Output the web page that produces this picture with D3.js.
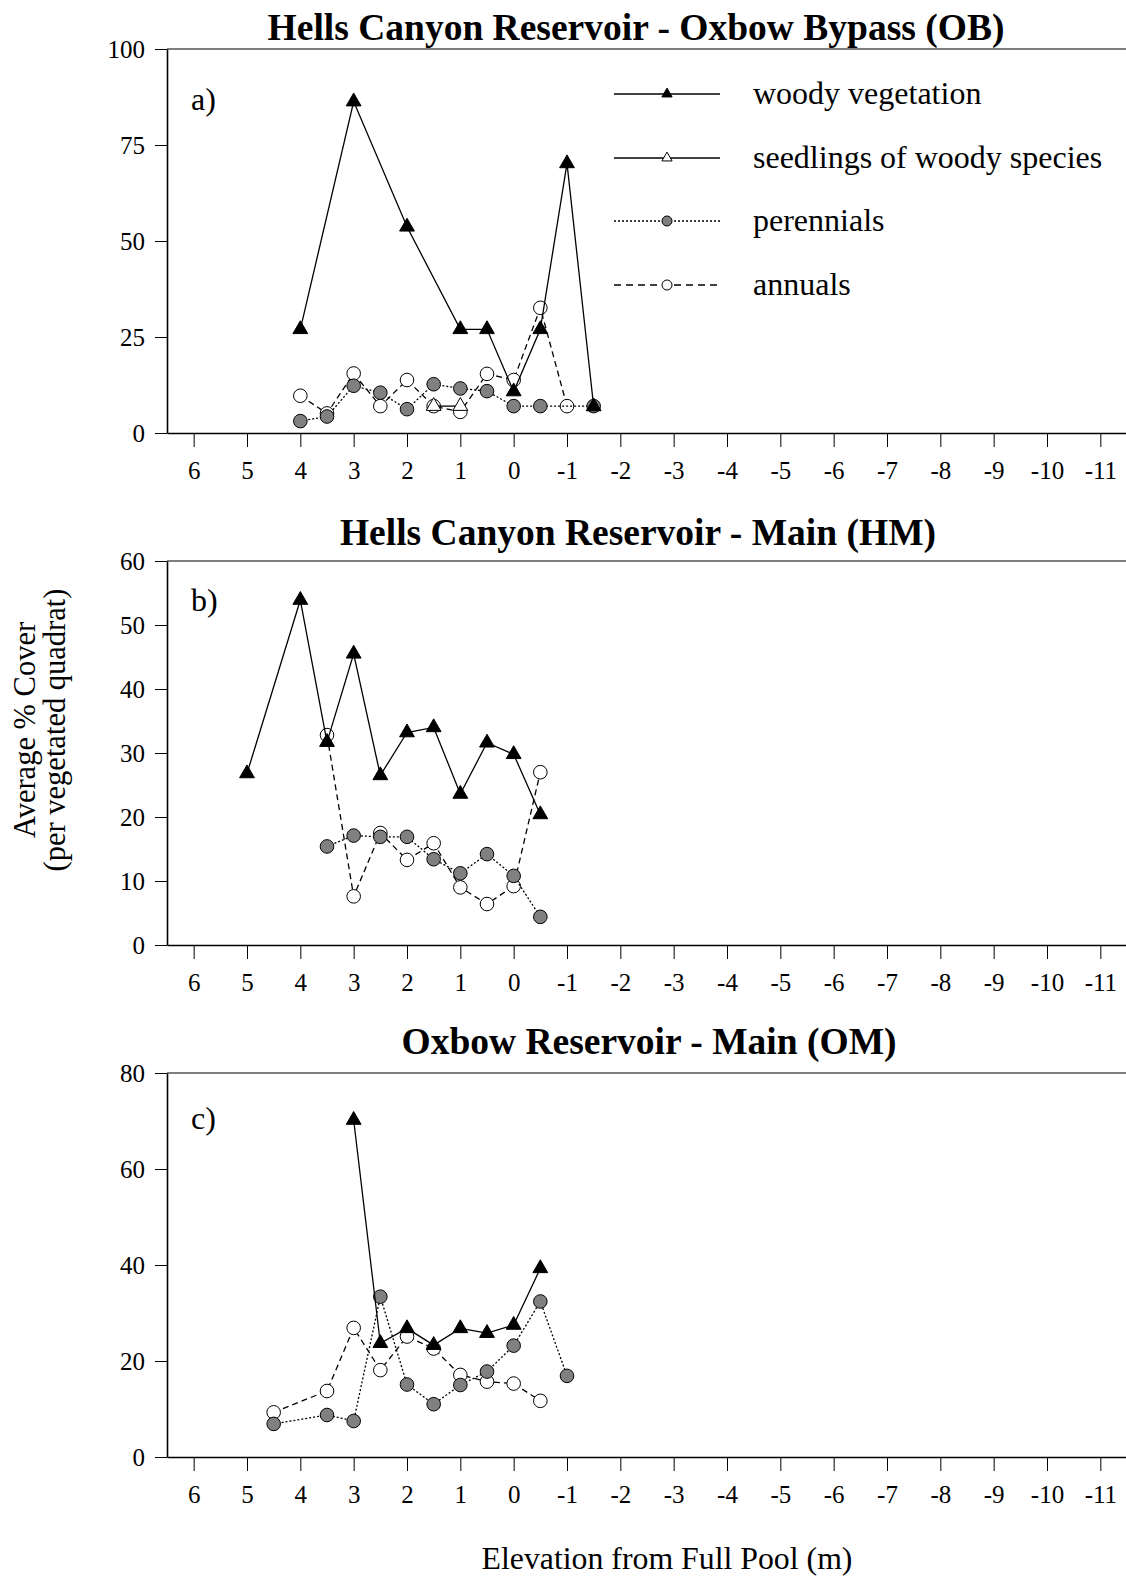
<!DOCTYPE html>
<html>
<head>
<meta charset="utf-8">
<script src="https://cdn.jsdelivr.net/npm/d3@7"></script>
<style>
  html, body { margin: 0; padding: 0; background: #fff; }
  text { font-family: "Liberation Serif", "Times New Roman", serif; fill: #000; }
</style>
</head>
<body>
<div id="chart"></div>
<script>
const X_TICKS = [6, 5, 4, 3, 2, 1, 0, -1, -2, -3, -4, -5, -6, -7, -8, -9, -10, -11];

// a) Hells Canyon Reservoir - Oxbow Bypass  [elevation, % cover]
const obWoody = [[4, 27], [3, 86.3], [2, 53.7], [1, 27], [0.5, 27], [0, 10.8], [-0.5, 27], [-1, 70.2], [-1.5, 6.9]];
const obSeedlings = [[1.5, 7], [1, 7]];
const obPerennials = [[4, 3.1], [3.5, 4.3], [3, 12.3], [2.5, 10.5], [2, 6.2], [1.5, 12.7], [1, 11.6], [0.5, 10.9], [0, 7], [-0.5, 7], [-1.5, 7]];
const obAnnuals = [[4, 9.7], [3.5, 5.1], [3, 15.5], [2.5, 7], [2, 13.8], [1.5, 7], [1, 5.5], [0.5, 15.4], [0, 13.8], [-0.5, 32.6], [-1, 7]];
const obYTicks = [0, 25, 50, 75, 100];

// b) Hells Canyon Reservoir - Main
const hmWoody = [[5, 26.8], [4, 53.9], [3.5, 31.7], [3, 45.5], [2.5, 26.5], [2, 33.2], [1.5, 34], [1, 23.6], [0.5, 31.6], [0, 29.8], [-0.5, 20.4]];
const hmPerennials = [[3.5, 15.4], [3, 17.1], [2.5, 16.9], [2, 16.9], [1.5, 13.4], [1, 11.2], [0.5, 14.2], [0, 10.8], [-0.5, 4.4]];
const hmAnnuals = [[3.5, 32.8], [3, 7.6], [2.5, 17.5], [2, 13.3], [1.5, 15.9], [1, 9], [0.5, 6.4], [0, 9.2], [-0.5, 27]];
const hmYTicks = [0, 10, 20, 30, 40, 50, 60];

// c) Oxbow Reservoir - Main
const omWoody = [[3, 70.2], [2.5, 23.7], [2, 26.8], [1.5, 23.3], [1, 26.8], [0.5, 25.8], [0, 27.5], [-0.5, 39.3]];
const omPerennials = [[4.5, 6.9], [3.5, 8.75], [3, 7.5], [2.5, 33.4], [2, 15.1], [1.5, 11], [1, 15], [0.5, 17.8], [0, 23.2], [-0.5, 32.4], [-1, 16.9]];
const omAnnuals = [[4.5, 9.3], [3.5, 13.75], [3, 26.9], [2.5, 18.1], [2, 25.1], [1.5, 22.6], [1, 17.1], [0.5, 15.7], [0, 15.3], [-0.5, 11.7]];
const omYTicks = [0, 20, 40, 60, 80];

const LEGEND = ['woody vegetation', 'seedlings of woody species', 'perennials', 'annuals'];

// line + marker styles per series kind
const STYLE = {
  woody:      { dash: null,  marker: 'tri',    fill: '#000' },
  seedlings:  { dash: null,  marker: 'tri',    fill: '#fff' },
  perennials: { dash: '2,2', marker: 'circle', fill: '#808080' },
  annuals:    { dash: '6,4', marker: 'circle', fill: '#fff' },
};

const width = 1126, height = 1577;
const left = 167, right = 1127;

const panels = [
  { title: 'Hells Canyon Reservoir - Oxbow Bypass (OB)', tag: 'a)', top: 49, bottom: 433, yMax: 100, yTicks: obYTicks, titleX: 636, titleY: 40, tagY: 110,
    series: [['annuals', obAnnuals], ['perennials', obPerennials], ['seedlings', obSeedlings], ['woody', obWoody]] },
  { title: 'Hells Canyon Reservoir - Main (HM)', tag: 'b)', top: 561, bottom: 945, yMax: 60, yTicks: hmYTicks, titleX: 638, titleY: 545, tagY: 611,
    series: [['annuals', hmAnnuals], ['perennials', hmPerennials], ['woody', hmWoody]] },
  { title: 'Oxbow Reservoir - Main (OM)', tag: 'c)', top: 1073, bottom: 1457, yMax: 80, yTicks: omYTicks, titleX: 649, titleY: 1054, tagY: 1129,
    series: [['annuals', omAnnuals], ['perennials', omPerennials], ['woody', omWoody]] },
];

const svg = d3.select('#chart').append('svg')
  .attr('width', width)
  .attr('height', height);

const x = d3.scaleLinear().domain([6.5, -11.5]).range([left, right]);

const triangle = d3.symbol().type(d3.symbolTriangle);

function drawMarker(g, kind, cx, cy, small) {
  const st = STYLE[kind];
  if (st.marker === 'tri') {
    g.append('path')
      .attr('d', triangle.size(small ? 45 : 95)())
      .attr('transform', `translate(${cx},${cy})`)
      .attr('fill', st.fill)
      .attr('stroke', '#000')
      .attr('stroke-width', 1);
  } else {
    g.append('circle')
      .attr('cx', cx).attr('cy', cy)
      .attr('r', small ? 5 : 6.8)
      .attr('fill', st.fill)
      .attr('stroke', '#000')
      .attr('stroke-width', 1);
  }
}

panels.forEach(p => {
  const y = d3.scaleLinear().domain([0, p.yMax]).range([p.bottom, p.top]);
  const g = svg.append('g');

  // title
  g.append('text')
    .attr('x', p.titleX).attr('y', p.titleY)
    .attr('text-anchor', 'middle')
    .attr('font-size', 37.5).attr('font-weight', 'bold')
    .text(p.title);

  // frame: top and right edges
  g.append('path')
    .attr('d', `M${left},${p.top}H${right}V${p.bottom}`)
    .attr('fill', 'none').attr('stroke', '#000').attr('stroke-width', 1.2);

  // y axis
  const yAxis = g.append('g')
    .attr('transform', `translate(${left},0)`)
    .call(d3.axisLeft(y).tickValues(p.yTicks).tickSize(12).tickPadding(10).tickSizeOuter(0));
  yAxis.select('.domain').attr('stroke-width', 1.6);
  yAxis.selectAll('.tick line').attr('stroke-width', 1);
  yAxis.selectAll('text').attr('font-size', 25).attr('font-family', '"Liberation Serif", serif');

  // x axis, plain hyphen for negatives
  const xAxis = g.append('g')
    .attr('transform', `translate(0,${p.bottom})`)
    .call(d3.axisBottom(x).tickValues(X_TICKS).tickFormat(d => String(d))
      .tickSize(14).tickPadding(14).tickSizeOuter(0));
  xAxis.select('.domain').attr('stroke-width', 1.6);
  xAxis.selectAll('.tick line').attr('stroke-width', 1);
  xAxis.selectAll('text').attr('font-size', 25).attr('font-family', '"Liberation Serif", serif');

  // panel tag
  g.append('text')
    .attr('x', 191).attr('y', p.tagY)
    .attr('font-size', 32)
    .text(p.tag);

  const line = d3.line().x(d => x(d[0])).y(d => y(d[1]));

  p.series.forEach(([kind, data]) => {
    const st = STYLE[kind];
    g.append('path')
      .datum(data)
      .attr('d', line)
      .attr('fill', 'none')
      .attr('stroke', '#000')
      .attr('stroke-width', 1.3)
      .attr('stroke-dasharray', st.dash);
    const mg = g.append('g');
    data.forEach(d => drawMarker(mg, kind, x(d[0]), y(d[1]), false));
  });
});

// legend
const legendKinds = ['woody', 'seedlings', 'perennials', 'annuals'];
const legendRows = [94, 158, 221, 285];
const lg = svg.append('g');
legendKinds.forEach((kind, i) => {
  const ly = legendRows[i];
  lg.append('line')
    .attr('x1', 614).attr('x2', 720)
    .attr('y1', ly).attr('y2', ly)
    .attr('stroke', '#000').attr('stroke-width', 1.3)
    .attr('stroke-dasharray', kind === 'annuals' ? '7,5' : STYLE[kind].dash);
  drawMarker(lg, kind, 667, ly, true);
  lg.append('text')
    .attr('x', 753).attr('y', ly)
    .attr('dy', '0.32em')
    .attr('font-size', 32)
    .text(LEGEND[i]);
});

// axis titles
svg.append('text')
  .attr('x', 667).attr('y', 1569)
  .attr('text-anchor', 'middle')
  .attr('font-size', 31.8)
  .text('Elevation from Full Pool (m)');

const yl = svg.append('text')
  .attr('transform', 'translate(0,730) rotate(-90)')
  .attr('text-anchor', 'middle')
  .attr('font-size', 30.5);
yl.append('tspan').attr('x', 0).attr('y', 35).text('Average %  Cover');
yl.append('tspan').attr('x', 0).attr('y', 65).text('(per vegetated quadrat)');
</script>
</body>
</html>
